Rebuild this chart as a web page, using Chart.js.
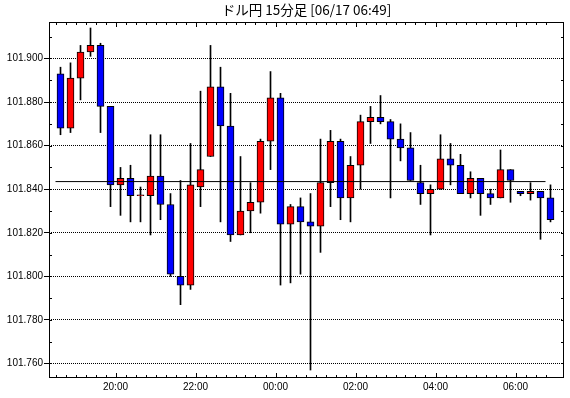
<!DOCTYPE html>
<html>
<head>
<meta charset="utf-8">
<script src="https://cdn.jsdelivr.net/npm/chart.js@4"></script>
<style>
  html, body { margin: 0; padding: 0; background: #fff; }
  canvas { display: block; }
</style>
</head>
<body>
<canvas id="fxChart" width="570" height="398"></canvas>
<script>
// USD/JPY 15-minute candles, 18:30 -> 06:45
const opens = [101.893, 101.868, 101.891, 101.903, 101.906, 101.878, 101.842, 101.845, 101.837, 101.837,
    101.846, 101.833, 101.800, 101.796, 101.841, 101.855, 101.887, 101.869, 101.819, 101.830,
    101.834, 101.862, 101.882, 101.824, 101.832, 101.825, 101.823, 101.843, 101.862, 101.836,
    101.851, 101.871, 101.873, 101.871, 101.863, 101.859, 101.843, 101.838, 101.840, 101.854,
    101.851, 101.838, 101.845, 101.838, 101.836, 101.849, 101.839, 101.838, 101.839, 101.836];
const highs = [101.896, 101.898, 101.906, 101.914, 101.907, 101.878, 101.850, 101.851, 101.841, 101.865,
    101.865, 101.838, 101.844, 101.861, 101.885, 101.906, 101.896, 101.884, 101.855, 101.843,
    101.863, 101.894, 101.884, 101.833, 101.836, 101.838, 101.863, 101.867, 101.863, 101.855,
    101.874, 101.878, 101.883, 101.872, 101.870, 101.866, 101.851, 101.842, 101.865, 101.861,
    101.856, 101.848, 101.845, 101.840, 101.858, 101.849, 101.839, 101.843, 101.839, 101.842];
const lows = [101.865, 101.866, 101.881, 101.901, 101.866, 101.832, 101.828, 101.825, 101.825, 101.819,
    101.826, 101.800, 101.787, 101.794, 101.832, 101.855, 101.825, 101.816, 101.819, 101.820,
    101.829, 101.849, 101.796, 101.797, 101.801, 101.757, 101.811, 101.832, 101.826, 101.825,
    101.840, 101.861, 101.870, 101.836, 101.853, 101.844, 101.833, 101.819, 101.840, 101.842,
    101.838, 101.836, 101.828, 101.833, 101.836, 101.834, 101.837, 101.835, 101.817, 101.825];
const closes = [101.868, 101.891, 101.903, 101.906, 101.878, 101.842, 101.845, 101.837, 101.837, 101.846,
    101.833, 101.801, 101.796, 101.842, 101.849, 101.887, 101.869, 101.819, 101.830, 101.834,
    101.862, 101.882, 101.824, 101.832, 101.825, 101.823, 101.843, 101.862, 101.836, 101.851,
    101.871, 101.873, 101.871, 101.863, 101.859, 101.844, 101.838, 101.840, 101.854, 101.851,
    101.838, 101.845, 101.838, 101.836, 101.849, 101.844, 101.838, 101.839, 101.836, 101.826];

const refLevel = 101.8435;
const yTicks = [101.760, 101.780, 101.800, 101.820, 101.840, 101.860, 101.880, 101.900];
const xTickLabels = ['20:00', '22:00', '00:00', '02:00', '04:00', '06:00'];
const xTickIndex = [6, 14, 22, 30, 38, 46];

const UP = '#ff0000';
const DOWN = '#0000ff';

const idx = opens.map((_, i) => i);
const bodies = idx.map(i => ({ x: i, y: [opens[i], closes[i]] }));
const wicks = idx.map(i => ({ x: i, y: [lows[i], highs[i]] }));
const bodyColors = idx.map(i => closes[i] >= opens[i] ? UP : DOWN);

// frame + inward tick marks on all four sides
const framePlugin = {
    id: 'frame',
    afterDatasetsDraw(chart) {
        const { ctx, chartArea: a, scales } = chart;
        const xs = scales.x, ys = scales.y;
        ctx.save();
        ctx.strokeStyle = '#000';
        ctx.lineWidth = 1;
        ctx.setLineDash([]);
        ctx.beginPath();
        for (let i = 0; i < opens.length; i++) {
            const px = Math.round(xs.getPixelForValue(i - 0.5)) + 0.5;
            const len = xTickIndex.includes(i) ? 5 : 3;
            ctx.moveTo(px, a.top);
            ctx.lineTo(px, a.top + len);
            ctx.moveTo(px, a.bottom);
            ctx.lineTo(px, a.bottom - len);
        }
        for (let k = 0; k <= 15; k++) {
            const v = yTicks[0] + k * 0.01;
            const py = Math.round(ys.getPixelForValue(v)) + 0.5;
            if (py < a.top || py > a.bottom) continue;
            ctx.moveTo(a.left, py);
            ctx.lineTo(a.left + 3, py);
            ctx.moveTo(a.right, py);
            ctx.lineTo(a.right - 3, py);
        }
        ctx.stroke();
        ctx.strokeRect(a.left + 0.5, a.top + 0.5, a.right - a.left - 1, a.bottom - a.top - 1);
        ctx.restore();
    }
};

const tickFont = { family: "'Liberation Sans', sans-serif", size: 10 };

new Chart(document.getElementById('fxChart'), {
    type: 'bar',
    data: {
        datasets: [
            {
                type: 'line',
                data: [{ x: -0.5, y: refLevel }, { x: 48.5, y: refLevel }],
                borderColor: '#000',
                borderWidth: 1,
                pointRadius: 0,
                order: 0,
            },
            {
                data: bodies,
                backgroundColor: bodyColors,
                borderColor: '#000',
                borderWidth: 1,
                borderSkipped: false,
                barThickness: 7,
                minBarLength: 1,
                grouped: false,
                order: 1,
            },
            {
                data: wicks,
                backgroundColor: '#000',
                borderWidth: 0,
                barThickness: 1,
                grouped: false,
                order: 2,
            },
        ],
    },
    options: {
        responsive: false,
        animation: false,
        layout: { padding: { left: 0, right: 6, top: 0, bottom: 0 } },
        plugins: {
            legend: { display: false },
            tooltip: { enabled: false },
            title: {
                display: true,
                text: 'ドル円 15分足 [06/17 06:49]',
                fullSize: false,
                color: '#000',
                font: { family: "'Noto Sans CJK JP', sans-serif", size: 13.5, weight: 'normal', lineHeight: 1.2 },
                padding: { top: 2, bottom: 3.8 },
            },
        },
        scales: {
            x: {
                type: 'linear',
                offset: false,
                min: -1.15,
                max: 50.35,
                grid: { display: false, drawTicks: false, offset: false },
                border: { display: false },
                afterBuildTicks(scale) {
                    scale.ticks = xTickIndex.map(i => ({ value: i - 0.5 }));
                },
                afterFit(scale) { scale.height = 20; },
                ticks: {
                    autoSkip: false,
                    maxRotation: 0,
                    padding: 3,
                    color: '#000',
                    font: tickFont,
                    callback: (value, i) => xTickLabels[i],
                },
            },
            y: {
                min: 101.75334,
                max: 101.91675,
                grid: {
                    color: '#000',
                    lineWidth: 1,
                    tickBorderDash: [],
                    tickLength: 5,
                    tickColor: '#000',
                },
                border: { display: false, dash: [1, 1] },
                afterBuildTicks(scale) {
                    scale.ticks = yTicks.map(v => ({ value: v }));
                },
                afterFit(scale) { scale.width = 49; },
                ticks: {
                    padding: 1,
                    color: '#000',
                    font: tickFont,
                    callback: v => v.toFixed(3),
                },
            },
        },
    },
    plugins: [framePlugin],
});
</script>
</body>
</html>
